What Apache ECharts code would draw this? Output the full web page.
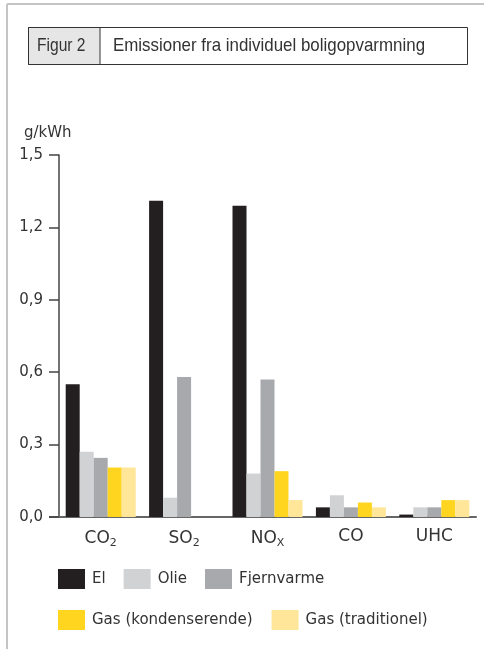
<!DOCTYPE html>
<html>
<head>
<meta charset="utf-8">
<script src="https://cdn.jsdelivr.net/npm/echarts@6/dist/echarts.min.js"></script>
<style>
html,body{margin:0;padding:0;background:#fff;}
#c{width:484px;height:649px;}
</style>
</head>
<body>
<div id="c"></div>
<script>
const categories = ['CO2', 'SO2', 'NOx', 'CO', 'UHC'];
const seriesNames = ['El', 'Olie', 'Fjernvarme', 'Gas (kondenserende)', 'Gas (traditionel)'];
const elValues = [0.55, 1.31, 1.29, 0.04, 0.01];
const olieValues = [0.27, 0.08, 0.18, 0.09, 0.04];
const fjernvarmeValues = [0.245, 0.58, 0.57, 0.04, 0.04];
const gasKondValues = [0.205, 0, 0.19, 0.06, 0.07];
const gasTradValues = [0.205, 0, 0.07, 0.04, 0.07];
const yTicks = [0, 0.3, 0.6, 0.9, 1.2, 1.5];
const colors = ['#231f20', '#d1d2d4', '#a7a9ac', '#ffd520', '#ffe699'];

const font = 'DejaVu Sans';
const condFont = "'Liberation Sans', sans-serif";
const allValues = [elValues, olieValues, fjernvarmeValues, gasKondValues, gasTradValues];

const labelRich = {
  n: {fontFamily: font, fontSize: 17, color: '#333'},
  s: {fontFamily: font, fontSize: 11, color: '#333', verticalAlign: 'bottom', padding: [10, 0, 0, 0]}
};
function fmtCat(v) {
  if (v === 'CO2') return '{n|CO}{s|2}';
  if (v === 'SO2') return '{n|SO}{s|2}';
  if (v === 'NOx') return '{n|NO}{s|X}';
  return '{n|' + v + '}';
}

const chart = echarts.init(document.getElementById('c'), null, {renderer: 'canvas'});
chart.setOption({
  animation: false,
  backgroundColor: '#fff',
  graphic: [
    {type: 'line', shape: {x1: 7, y1: 4, x2: 484, y2: 4}, style: {stroke: '#c4c4c4', lineWidth: 2}},
    {type: 'line', shape: {x1: 7, y1: 4, x2: 7, y2: 649}, style: {stroke: '#c4c4c4', lineWidth: 2}},
    {type: 'rect', shape: {x: 28.5, y: 27.5, width: 439, height: 37}, style: {fill: '#fff', stroke: '#333', lineWidth: 1}},
    {type: 'rect', shape: {x: 28.5, y: 27.5, width: 71.5, height: 37}, style: {fill: '#e6e6e6', stroke: '#333', lineWidth: 1}},
    {type: 'text', x: 37, y: 46, scaleX: 0.82, style: {text: 'Figur 2', fontFamily: condFont, fontSize: 19, fill: '#333', textVerticalAlign: 'middle'}},
    {type: 'text', x: 113, y: 46, scaleX: 0.89, style: {text: 'Emissioner fra individuel boligopvarmning', fontFamily: condFont, fontSize: 19, fill: '#333', textVerticalAlign: 'middle'}},
    {type: 'line', shape: {x1: 49, y1: 517, x2: 59, y2: 517}, style: {stroke: '#666', lineWidth: 2}}
  ],
  title: [
    {text: 'g/kWh', left: 19, top: 121, textStyle: {fontFamily: font, fontSize: 15, fontWeight: 'normal', color: '#333'}}
  ],
  legend: [
    {data: seriesNames.slice(0, 3), icon: 'rect', left: 58, top: 569, padding: 0, itemWidth: 27, itemHeight: 20, itemGap: 18, selectedMode: false,
     textStyle: {fontFamily: font, fontSize: 15, color: '#333', padding: [0, 0, 0, 2]}},
    {data: seriesNames.slice(3), icon: 'rect', left: 58, top: 610, padding: 0, itemWidth: 27, itemHeight: 20, itemGap: 19, selectedMode: false,
     textStyle: {fontFamily: font, fontSize: 15, color: '#333', padding: [0, 0, 0, 2]}}
  ],
  grid: {left: 59, right: 8, top: 155, bottom: 132, containLabel: false},
  xAxis: {
    type: 'category',
    data: categories,
    axisLine: {lineStyle: {color: '#666', width: 2}},
    axisTick: {show: false},
    axisLabel: {margin: 11, formatter: fmtCat, rich: labelRich}
  },
  yAxis: {
    type: 'value',
    min: yTicks[0],
    max: yTicks[yTicks.length - 1],
    interval: 0.3,
    axisLine: {show: true, lineStyle: {color: '#444', width: 1.5}},
    axisTick: {show: true, length: 10, lineStyle: {color: '#444', width: 1.5}},
    splitLine: {show: false},
    axisLabel: {
      margin: 16, fontFamily: font, fontSize: 15, color: '#333',
      formatter: v => v.toFixed(1).replace('.', ',')
    }
  },
  series: seriesNames.map((name, i) => ({
    name: name,
    type: 'bar',
    data: allValues[i],
    barWidth: 14,
    barGap: '0%',
    itemStyle: {color: colors[i]}
  }))
});
</script>
</body>
</html>
